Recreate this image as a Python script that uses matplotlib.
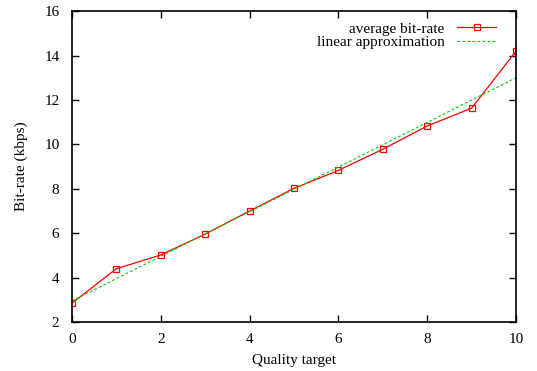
import matplotlib
matplotlib.use('Agg')
import matplotlib.pyplot as plt

plt.rcParams['font.family'] = ['Liberation Serif', 'DejaVu Serif']
plt.rcParams['font.size'] = 11

# Average bit-rate per quality target
quality = [0, 1, 2, 3, 4, 5, 6, 7, 8, 9, 10]
bitrate = [2.85, 4.4, 5.02, 5.96, 7.0, 8.02, 8.83, 9.78, 10.83, 11.63, 14.2]

# Linear approximation endpoints
lin_x = [0, 10]
lin_y = [2.95, 13.0]

fig = plt.figure(figsize=(5.37, 3.71), dpi=100)
ax = fig.add_axes([0.134, 0.132, 0.827, 0.838])

ax.plot(quality, bitrate, color='#ff0000', linewidth=0.9, marker='s', markersize=4.5,
        markerfacecolor='none', markeredgecolor='#ff0000', markeredgewidth=0.9,
        label='average bit-rate')
ax.plot(lin_x, lin_y, color='#00cc00', linewidth=0.8, linestyle=(0, (2.5, 2)),
        label='linear approximation')

ax.set_xlim(0, 10)
ax.set_ylim(2, 16)
ax.set_xticks(range(0, 11, 2))
ax.set_yticks(range(2, 17, 2))
ax.tick_params(direction='in', top=True, right=True, length=5, width=1)
ax.tick_params(axis='y', pad=9)
ax.tick_params(axis='x', pad=8)
for s in ax.spines.values():
    s.set_linewidth(1.2)

ax.set_xlabel('Quality target', labelpad=6)
ax.set_ylabel('Bit-rate (kbps)', labelpad=12)

ax.legend(loc='upper right', frameon=False, markerfirst=False, handlelength=2.6,
          borderaxespad=0.4, borderpad=0.3, labelspacing=0.0, handletextpad=0.8,
          bbox_to_anchor=(0.98, 1.0))

fig.savefig('out.png', dpi=100)
